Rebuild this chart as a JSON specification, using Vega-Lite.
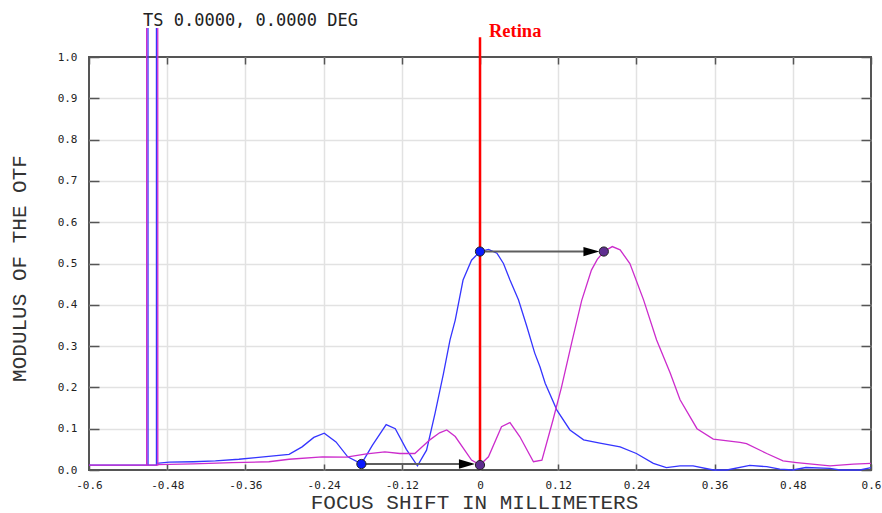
{
  "$schema": "https://vega.github.io/schema/vega-lite/v6.json",
  "width": 782,
  "height": 413,
  "autosize": {"type": "none"},
  "padding": {"left": 89, "top": 57, "right": 11, "bottom": 43},
  "background": "white",
  "title": {
    "text": "TS 0.0000, 0.0000 DEG",
    "anchor": "start",
    "frame": "group",
    "dx": 54,
    "dy": 23,
    "offset": 2,
    "baseline": "alphabetic",
    "font": "DejaVu Sans Mono",
    "fontSize": 17,
    "fontWeight": "normal",
    "color": "#222"
  },
  "config": {"view": {"stroke": "#555", "strokeWidth": 2}},
  "datasets": {
    "otf": [
      {"ray": "blue", "i": 0, "shift": -0.6, "modulus": 0.012},
      {"ray": "blue", "i": 1, "shift": -0.5095, "modulus": 0.012},
      {"ray": "blue", "i": 2, "shift": -0.5095, "modulus": 1.07},
      {"ray": "blue", "i": 3, "shift": -0.5094, "modulus": 0.012},
      {"ray": "blue", "i": 4, "shift": -0.4965, "modulus": 0.012},
      {"ray": "blue", "i": 5, "shift": -0.4965, "modulus": 1.07},
      {"ray": "blue", "i": 6, "shift": -0.4964, "modulus": 0.016},
      {"ray": "blue", "i": 7, "shift": -0.477, "modulus": 0.019},
      {"ray": "blue", "i": 8, "shift": -0.44, "modulus": 0.02},
      {"ray": "blue", "i": 9, "shift": -0.406, "modulus": 0.022},
      {"ray": "blue", "i": 10, "shift": -0.37, "modulus": 0.026},
      {"ray": "blue", "i": 11, "shift": -0.344, "modulus": 0.03},
      {"ray": "blue", "i": 12, "shift": -0.293, "modulus": 0.038},
      {"ray": "blue", "i": 13, "shift": -0.273, "modulus": 0.056},
      {"ray": "blue", "i": 14, "shift": -0.255, "modulus": 0.079},
      {"ray": "blue", "i": 15, "shift": -0.239, "modulus": 0.089},
      {"ray": "blue", "i": 16, "shift": -0.221, "modulus": 0.068},
      {"ray": "blue", "i": 17, "shift": -0.203, "modulus": 0.032},
      {"ray": "blue", "i": 18, "shift": -0.182, "modulus": 0.015},
      {"ray": "blue", "i": 19, "shift": -0.165, "modulus": 0.06},
      {"ray": "blue", "i": 20, "shift": -0.144, "modulus": 0.11},
      {"ray": "blue", "i": 21, "shift": -0.13, "modulus": 0.1},
      {"ray": "blue", "i": 22, "shift": -0.113, "modulus": 0.05},
      {"ray": "blue", "i": 23, "shift": -0.096, "modulus": 0.01},
      {"ray": "blue", "i": 24, "shift": -0.082, "modulus": 0.048},
      {"ray": "blue", "i": 25, "shift": -0.069, "modulus": 0.137},
      {"ray": "blue", "i": 26, "shift": -0.056, "modulus": 0.234},
      {"ray": "blue", "i": 27, "shift": -0.046, "modulus": 0.315},
      {"ray": "blue", "i": 28, "shift": -0.038, "modulus": 0.363},
      {"ray": "blue", "i": 29, "shift": -0.026, "modulus": 0.46},
      {"ray": "blue", "i": 30, "shift": -0.013, "modulus": 0.508},
      {"ray": "blue", "i": 31, "shift": 0, "modulus": 0.529},
      {"ray": "blue", "i": 32, "shift": 0.013, "modulus": 0.534},
      {"ray": "blue", "i": 33, "shift": 0.026, "modulus": 0.525},
      {"ray": "blue", "i": 34, "shift": 0.036, "modulus": 0.5},
      {"ray": "blue", "i": 35, "shift": 0.046, "modulus": 0.46},
      {"ray": "blue", "i": 36, "shift": 0.059, "modulus": 0.412},
      {"ray": "blue", "i": 37, "shift": 0.072, "modulus": 0.347},
      {"ray": "blue", "i": 38, "shift": 0.084, "modulus": 0.283},
      {"ray": "blue", "i": 39, "shift": 0.092, "modulus": 0.25},
      {"ray": "blue", "i": 40, "shift": 0.1, "modulus": 0.21},
      {"ray": "blue", "i": 41, "shift": 0.118, "modulus": 0.145},
      {"ray": "blue", "i": 42, "shift": 0.138, "modulus": 0.097},
      {"ray": "blue", "i": 43, "shift": 0.159, "modulus": 0.073},
      {"ray": "blue", "i": 44, "shift": 0.184, "modulus": 0.065},
      {"ray": "blue", "i": 45, "shift": 0.215, "modulus": 0.056},
      {"ray": "blue", "i": 46, "shift": 0.24, "modulus": 0.04},
      {"ray": "blue", "i": 47, "shift": 0.266, "modulus": 0.016},
      {"ray": "blue", "i": 48, "shift": 0.286, "modulus": 0.006},
      {"ray": "blue", "i": 49, "shift": 0.307, "modulus": 0.01},
      {"ray": "blue", "i": 50, "shift": 0.327, "modulus": 0.01},
      {"ray": "blue", "i": 51, "shift": 0.358, "modulus": 0.0},
      {"ray": "blue", "i": 52, "shift": 0.379, "modulus": 0.0},
      {"ray": "blue", "i": 53, "shift": 0.414, "modulus": 0.011},
      {"ray": "blue", "i": 54, "shift": 0.44, "modulus": 0.008},
      {"ray": "blue", "i": 55, "shift": 0.46, "modulus": 0.002},
      {"ray": "blue", "i": 56, "shift": 0.48, "modulus": 0.0},
      {"ray": "blue", "i": 57, "shift": 0.5, "modulus": 0.006},
      {"ray": "blue", "i": 58, "shift": 0.537, "modulus": 0.004},
      {"ray": "blue", "i": 59, "shift": 0.552, "modulus": 0.0},
      {"ray": "blue", "i": 60, "shift": 0.583, "modulus": 0.0},
      {"ray": "blue", "i": 61, "shift": 0.6, "modulus": 0.006},
      {"ray": "magenta", "i": 0, "shift": -0.6, "modulus": 0.012},
      {"ray": "magenta", "i": 1, "shift": -0.5115, "modulus": 0.012},
      {"ray": "magenta", "i": 2, "shift": -0.5115, "modulus": 1.07},
      {"ray": "magenta", "i": 3, "shift": -0.5114, "modulus": 0.012},
      {"ray": "magenta", "i": 4, "shift": -0.4945, "modulus": 0.012},
      {"ray": "magenta", "i": 5, "shift": -0.4945, "modulus": 1.07},
      {"ray": "magenta", "i": 6, "shift": -0.4944, "modulus": 0.013},
      {"ray": "magenta", "i": 7, "shift": -0.44, "modulus": 0.015},
      {"ray": "magenta", "i": 8, "shift": -0.38, "modulus": 0.018},
      {"ray": "magenta", "i": 9, "shift": -0.324, "modulus": 0.02},
      {"ray": "magenta", "i": 10, "shift": -0.293, "modulus": 0.026},
      {"ray": "magenta", "i": 11, "shift": -0.242, "modulus": 0.032},
      {"ray": "magenta", "i": 12, "shift": -0.205, "modulus": 0.031},
      {"ray": "magenta", "i": 13, "shift": -0.174, "modulus": 0.039},
      {"ray": "magenta", "i": 14, "shift": -0.146, "modulus": 0.044},
      {"ray": "magenta", "i": 15, "shift": -0.123, "modulus": 0.04},
      {"ray": "magenta", "i": 16, "shift": -0.1, "modulus": 0.04},
      {"ray": "magenta", "i": 17, "shift": -0.077, "modulus": 0.073},
      {"ray": "magenta", "i": 18, "shift": -0.062, "modulus": 0.09},
      {"ray": "magenta", "i": 19, "shift": -0.051, "modulus": 0.097},
      {"ray": "magenta", "i": 20, "shift": -0.038, "modulus": 0.081},
      {"ray": "magenta", "i": 21, "shift": -0.013, "modulus": 0.024},
      {"ray": "magenta", "i": 22, "shift": 0, "modulus": 0.012},
      {"ray": "magenta", "i": 23, "shift": 0.013, "modulus": 0.032},
      {"ray": "magenta", "i": 24, "shift": 0.033, "modulus": 0.105},
      {"ray": "magenta", "i": 25, "shift": 0.046, "modulus": 0.115},
      {"ray": "magenta", "i": 26, "shift": 0.061, "modulus": 0.081},
      {"ray": "magenta", "i": 27, "shift": 0.082, "modulus": 0.02},
      {"ray": "magenta", "i": 28, "shift": 0.095, "modulus": 0.024},
      {"ray": "magenta", "i": 29, "shift": 0.112, "modulus": 0.121},
      {"ray": "magenta", "i": 30, "shift": 0.125, "modulus": 0.2},
      {"ray": "magenta", "i": 31, "shift": 0.141, "modulus": 0.31},
      {"ray": "magenta", "i": 32, "shift": 0.156, "modulus": 0.41},
      {"ray": "magenta", "i": 33, "shift": 0.171, "modulus": 0.484},
      {"ray": "magenta", "i": 34, "shift": 0.18, "modulus": 0.51},
      {"ray": "magenta", "i": 35, "shift": 0.19, "modulus": 0.529},
      {"ray": "magenta", "i": 36, "shift": 0.203, "modulus": 0.541},
      {"ray": "magenta", "i": 37, "shift": 0.215, "modulus": 0.533},
      {"ray": "magenta", "i": 38, "shift": 0.23, "modulus": 0.5},
      {"ray": "magenta", "i": 39, "shift": 0.251, "modulus": 0.412},
      {"ray": "magenta", "i": 40, "shift": 0.271, "modulus": 0.315},
      {"ray": "magenta", "i": 41, "shift": 0.292, "modulus": 0.234},
      {"ray": "magenta", "i": 42, "shift": 0.307, "modulus": 0.17},
      {"ray": "magenta", "i": 43, "shift": 0.333, "modulus": 0.1},
      {"ray": "magenta", "i": 44, "shift": 0.358, "modulus": 0.075},
      {"ray": "magenta", "i": 45, "shift": 0.399, "modulus": 0.067},
      {"ray": "magenta", "i": 46, "shift": 0.409, "modulus": 0.064},
      {"ray": "magenta", "i": 47, "shift": 0.44, "modulus": 0.04},
      {"ray": "magenta", "i": 48, "shift": 0.465, "modulus": 0.022},
      {"ray": "magenta", "i": 49, "shift": 0.486, "modulus": 0.018},
      {"ray": "magenta", "i": 50, "shift": 0.537, "modulus": 0.01},
      {"ray": "magenta", "i": 51, "shift": 0.573, "modulus": 0.014},
      {"ray": "magenta", "i": 52, "shift": 0.6, "modulus": 0.016}
    ],
    "retina": [{"shift": 0, "from": 0, "to": 1.048, "label": "Retina"}],
    "arrows": [
      {"from": 0, "to": 0.172, "level": 0.529, "head": 0.171},
      {"from": -0.182, "to": -0.018, "level": 0.0145, "head": -0.02}
    ],
    "dots": [
      {"shift": 0, "modulus": 0.529, "kind": "before"},
      {"shift": -0.182, "modulus": 0.0145, "kind": "before"},
      {"shift": 0.19, "modulus": 0.529, "kind": "after"},
      {"shift": 0, "modulus": 0.012, "kind": "after"}
    ]
  },
  "layer": [
    {
      "data": {"name": "otf"},
      "mark": {"type": "line", "strokeWidth": 1.3},
      "encoding": {
        "x": {
          "field": "shift",
          "type": "quantitative",
          "scale": {"domain": [-0.6, 0.6], "nice": false, "zero": false},
          "axis": {
            "orient": "bottom",
            "values": [-0.6, -0.48, -0.36, -0.24, -0.12, 0, 0.12, 0.24, 0.36, 0.48, 0.6],
            "labelExpr": "'' + datum.value",
            "title": "FOCUS SHIFT IN MILLIMETERS",
            "domain": false,
            "grid": true,
            "gridColor": "#e2e2e2",
            "gridWidth": 1.5,
            "gridOpacity": {"condition": {"test": "abs(datum.value) > 0.59", "value": 0}, "value": 1},
            "ticks": true,
            "tickSize": -6,
            "tickColor": "#555",
            "tickWidth": 1.5,
            "labelPadding": 15,
            "labelFont": "DejaVu Sans Mono",
            "labelFontSize": 11,
            "labelColor": "#222",
            "labelFlush": false,
            "labelOverlap": false,
            "titleFont": "Liberation Mono",
            "titleFontSize": 21,
            "titleFontWeight": "normal",
            "titleColor": "#333",
            "titleX": 385,
            "titleY": 38,
            "titleBaseline": "alphabetic"
          }
        },
        "y": {
          "field": "modulus",
          "type": "quantitative",
          "scale": {"domain": [0, 1], "nice": false, "zero": false},
          "axis": {
            "orient": "left",
            "values": [0, 0.1, 0.2, 0.3, 0.4, 0.5, 0.6, 0.7, 0.8, 0.9, 1],
            "format": ".1f",
            "title": "MODULUS OF THE OTF",
            "domain": false,
            "grid": true,
            "gridColor": "#e2e2e2",
            "gridWidth": 1.5,
            "gridOpacity": {"condition": {"test": "datum.value < 0.001 || datum.value > 0.999", "value": 0}, "value": 1},
            "ticks": true,
            "tickSize": -10,
            "tickColor": "#555",
            "tickWidth": 1.5,
            "labelPadding": 22,
            "labelFont": "DejaVu Sans Mono",
            "labelFontSize": 11,
            "labelColor": "#222",
            "labelFlush": false,
            "labelOverlap": false,
            "titleFont": "Liberation Mono",
            "titleFontSize": 21,
            "titleFontWeight": "normal",
            "titleColor": "#333",
            "titleAngle": -90,
            "titleX": -64,
            "titleY": 211,
            "titleAlign": "center",
            "titleBaseline": "alphabetic"
          }
        },
        "color": {
          "field": "ray",
          "type": "nominal",
          "scale": {"domain": ["blue", "magenta"], "range": ["#3535ff", "#cc2ccc"]},
          "legend": null
        },
        "order": {"field": "i", "type": "quantitative"}
      }
    },
    {
      "data": {"name": "retina"},
      "mark": {"type": "rule", "color": "#ff0000", "strokeWidth": 2.5},
      "encoding": {
        "x": {
          "field": "shift",
          "type": "quantitative",
          "scale": {"domain": [-0.6, 0.6], "nice": false, "zero": false},
          "axis": {
            "orient": "top",
            "values": [-0.6, -0.48, -0.36, -0.24, -0.12, 0, 0.12, 0.24, 0.36, 0.48, 0.6],
            "labels": false,
            "title": null,
            "domain": false,
            "grid": false,
            "tickSize": -7,
            "tickColor": "#555",
            "tickWidth": 1.5
          }
        },
        "y": {
          "field": "from",
          "type": "quantitative",
          "scale": {"domain": [0, 1], "nice": false, "zero": false},
          "axis": {
            "orient": "right",
            "values": [0, 0.1, 0.2, 0.3, 0.4, 0.5, 0.6, 0.7, 0.8, 0.9, 1],
            "labels": false,
            "title": null,
            "domain": false,
            "grid": false,
            "tickSize": -10,
            "tickColor": "#555",
            "tickWidth": 1.5
          }
        },
        "y2": {"field": "to"}
      }
    },
    {
      "data": {"name": "arrows"},
      "mark": {"type": "rule", "color": "#5e5e5e", "strokeWidth": 2},
      "encoding": {
        "x": {"field": "from", "type": "quantitative", "axis": null},
        "x2": {"field": "to"},
        "y": {"field": "level", "type": "quantitative", "axis": null}
      }
    },
    {
      "data": {"name": "arrows"},
      "mark": {"type": "point", "shape": "M-1,-0.58L1,0L-1,0.58Z", "size": 256, "filled": true, "color": "#000", "opacity": 1},
      "encoding": {
        "x": {"field": "head", "type": "quantitative", "axis": null},
        "y": {"field": "level", "type": "quantitative", "axis": null}
      }
    },
    {
      "data": {"name": "dots"},
      "mark": {"type": "point", "shape": "circle", "size": 85, "filled": true, "opacity": 1, "stroke": "#222", "strokeWidth": 1},
      "encoding": {
        "x": {"field": "shift", "type": "quantitative", "axis": null},
        "y": {"field": "modulus", "type": "quantitative", "axis": null},
        "fill": {
          "field": "kind",
          "type": "nominal",
          "scale": {"domain": ["before", "after"], "range": ["#0a1aff", "#5e2d8f"]},
          "legend": null
        }
      }
    },
    {
      "data": {"name": "retina"},
      "mark": {"type": "text", "align": "left", "baseline": "alphabetic", "dx": 9, "font": "Liberation Serif", "fontWeight": "bold", "fontSize": 18.5, "color": "#ff0000"},
      "encoding": {
        "x": {"field": "shift", "type": "quantitative", "axis": null},
        "y": {"field": "to", "type": "quantitative", "axis": null},
        "text": {"field": "label"}
      }
    }
  ],
  "resolve": {"axis": {"x": "independent", "y": "independent"}}
}
